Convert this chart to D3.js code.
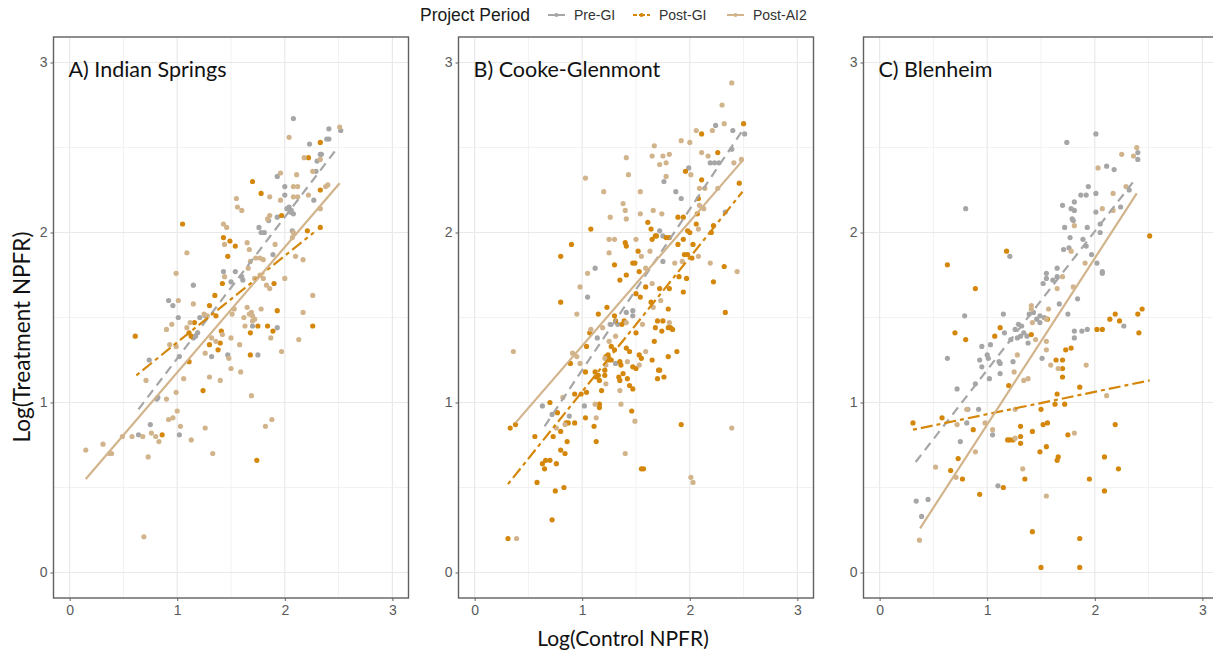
<!DOCTYPE html>
<html>
<head>
<meta charset="utf-8">
<script src="https://cdn.jsdelivr.net/npm/d3@7"></script>
<style>
  body { margin: 0; background: #fff; }
  svg { display: block; }
</style>
</head>
<body>
<svg id="chart" width="1213" height="652"></svg>
<script>
// categories
const sites = ['A) Indian Springs', 'B) Cooke-Glenmont', 'C) Blenheim'];
const periods = ['Pre-GI', 'Post-GI', 'Post-AI2'];
const periodColors = ['#a6a6a6', '#d4870b', '#d2b48c'];
const periodDash = ['9,6', '4,4,12,4', null];
const ticks = [0, 1, 2, 3];

// Indian Springs points [log control, log treatment]
const indianPre = [[2.23,2.52],[2.39,2.55],[2.30,2.42],[2.33,2.46],[1.93,2.33],[2.0,2.27],[2.29,2.36],[2.0,2.22],[2.27,2.19],[2.04,2.15],[2.06,2.13],[2.05,2.12],[2.08,2.11],[2.02,2.14],[1.93,2.09],[1.85,2.07],[1.76,2.03],[1.78,2.0],[1.81,2.0],[2.07,2.01],[1.89,1.87],[1.43,1.77],[1.54,1.77],[1.50,1.71],[1.60,1.74],[1.61,1.72],[1.15,1.69],[0.92,1.60],[0.96,1.57],[1.70,1.45],[1.93,1.44],[1.01,1.50],[1.17,1.39],[1.19,1.41],[1.15,1.38],[1.21,1.50],[1.26,1.51],[0.74,1.25],[1.02,1.27],[1.47,1.28],[1.75,1.28],[1.32,1.27],[0.82,1.03],[0.75,0.87],[0.64,0.81],[0.81,1.02],[1.02,0.81],[2.52,2.60],[2.41,2.61],[2.41,2.55],[2.08,2.67],[2.34,2.46]];
const indianPostGI = [[2.33,2.53],[2.22,2.44],[1.70,2.30],[2.33,2.25],[1.78,2.23],[1.97,2.10],[1.05,2.05],[1.43,1.97],[1.49,1.95],[1.54,1.92],[2.21,2.01],[2.33,2.03],[1.47,1.86],[1.42,1.70],[1.90,1.70],[1.35,1.63],[1.93,1.54],[1.30,1.57],[1.36,1.51],[1.75,1.45],[1.84,1.45],[1.89,1.42],[1.68,1.41],[1.16,1.47],[1.11,1.41],[1.13,1.39],[0.61,1.39],[1.41,1.42],[1.40,1.35],[1.30,1.34],[1.38,1.31],[2.26,1.45],[1.11,1.24],[1.68,1.28],[1.24,1.07],[0.86,0.81],[1.74,0.66]];
const indianPostAI2 = [[2.04,2.56],[2.18,2.44],[1.96,2.35],[2.11,2.34],[2.08,2.27],[2.12,2.27],[2.26,2.36],[2.38,2.27],[1.86,2.21],[1.96,2.19],[2.08,2.21],[2.12,2.21],[2.22,2.22],[1.55,2.20],[1.56,2.15],[1.60,2.13],[1.86,2.10],[1.84,2.08],[1.43,2.05],[1.46,2.03],[1.44,1.93],[1.65,1.94],[2.08,2.0],[2.07,1.97],[1.09,1.88],[1.67,1.90],[1.73,1.85],[1.77,1.85],[1.80,1.84],[1.68,1.83],[2.10,1.86],[2.17,1.84],[1.91,1.93],[0.99,1.76],[1.44,1.74],[1.66,1.79],[1.72,1.73],[1.77,1.75],[1.80,1.73],[2.0,1.73],[1.83,1.69],[1.86,1.67],[1.01,1.60],[1.15,1.58],[2.26,1.63],[2.17,1.53],[1.25,1.52],[1.28,1.51],[1.53,1.55],[1.51,1.52],[1.65,1.56],[1.69,1.53],[1.67,1.52],[1.70,1.51],[1.72,1.49],[1.70,1.48],[1.78,1.55],[1.87,1.38],[1.12,1.47],[1.09,1.44],[0.95,1.46],[0.90,1.43],[1.42,1.40],[1.32,1.38],[1.36,1.36],[1.50,1.38],[1.63,1.45],[1.62,1.50],[1.26,1.29],[1.58,1.34],[1.97,1.30],[2.13,1.37],[0.93,1.34],[0.99,1.33],[1.48,1.26],[0.71,1.13],[1.06,1.14],[1.30,1.15],[1.40,1.13],[1.50,1.20],[1.59,1.18],[1.69,1.04],[0.90,1.02],[0.99,1.06],[0.15,0.72],[0.31,0.755],[0.37,0.70],[0.39,0.70],[0.49,0.80],[0.58,0.80],[0.68,0.80],[0.76,0.82],[0.80,0.80],[0.83,0.77],[0.73,0.68],[0.69,0.21],[0.92,0.90],[0.96,0.91],[1.0,0.95],[1.03,0.86],[1.13,0.78],[1.26,0.85],[1.33,0.70],[1.82,0.86],[1.88,0.90],[2.51,2.62],[2.33,2.43],[2.40,2.28],[2.33,2.14]];

// Cooke-Glenmont points
const cookePre = [[2.24,2.63],[2.40,2.60],[2.51,2.58],[2.19,2.41],[2.23,2.41],[2.27,2.41],[2.39,2.49],[1.99,2.38],[1.76,2.30],[1.87,2.24],[1.92,2.20],[2.33,2.12],[1.72,2.01],[1.75,1.98],[1.75,1.83],[1.12,1.79],[1.05,1.62],[1.26,1.46],[1.33,1.46],[1.41,1.53],[1.47,1.54],[1.47,1.51],[1.14,1.38],[1.31,1.23],[0.63,0.98],[0.72,0.93],[0.88,0.92],[1.02,0.98]];
const cookePostGI = [[2.50,2.64],[2.11,2.58],[2.26,2.47],[1.96,2.36],[2.11,2.31],[2.08,2.20],[2.46,2.29],[1.89,2.09],[1.94,2.09],[2.07,2.11],[2.06,2.05],[2.22,2.04],[2.20,2.0],[1.98,2.01],[2.0,2.0],[1.61,2.06],[1.64,2.02],[1.68,1.98],[1.69,1.98],[1.78,1.97],[1.81,1.97],[1.65,1.96],[1.89,1.93],[1.94,1.96],[2.03,1.93],[1.98,1.87],[1.95,1.87],[2.02,1.85],[2.32,1.80],[2.22,1.71],[1.08,2.02],[0.90,1.93],[0.80,1.86],[1.40,1.94],[1.41,1.92],[1.52,1.89],[1.30,1.81],[1.47,1.82],[1.49,1.82],[1.53,1.77],[1.41,1.75],[1.35,1.72],[1.59,1.68],[1.72,1.67],[1.81,1.67],[1.90,1.74],[1.97,1.73],[1.94,1.65],[0.80,1.59],[1.15,1.52],[1.23,1.56],[1.30,1.51],[1.31,1.48],[1.37,1.46],[1.39,1.48],[1.50,1.64],[1.54,1.62],[1.64,1.59],[1.80,1.55],[1.70,1.48],[1.75,1.48],[1.68,1.44],[1.74,1.42],[1.80,1.44],[1.82,1.44],[1.84,1.43],[2.33,1.53],[1.07,1.41],[1.50,1.41],[1.27,1.33],[1.30,1.31],[1.41,1.32],[1.44,1.30],[1.67,1.36],[1.53,1.28],[1.55,1.26],[1.65,1.25],[1.80,1.27],[1.88,1.30],[1.04,1.33],[0.89,1.23],[1.22,1.27],[1.24,1.28],[1.27,1.25],[1.24,1.25],[1.35,1.24],[1.36,1.22],[1.47,1.21],[1.50,1.20],[1.71,1.19],[1.72,1.19],[1.03,1.18],[1.12,1.18],[1.15,1.16],[1.13,1.15],[1.16,1.13],[1.21,1.19],[1.21,1.16],[1.34,1.15],[1.35,1.13],[1.38,1.17],[1.42,1.14],[1.44,1.10],[1.47,1.08],[1.70,1.14],[1.76,1.15],[0.99,1.05],[1.04,1.06],[0.93,1.05],[1.18,1.07],[0.70,1.0],[0.77,0.94],[0.85,0.88],[0.87,0.88],[0.93,0.88],[1.16,0.99],[1.16,0.97],[1.03,0.91],[1.11,0.86],[1.46,0.95],[1.92,0.87],[0.33,0.85],[0.38,0.87],[0.56,0.80],[0.73,0.80],[0.80,0.83],[0.86,0.77],[1.13,0.77],[0.80,0.72],[0.84,0.70],[0.63,0.64],[0.66,0.66],[0.70,0.66],[0.65,0.61],[0.76,0.64],[1.55,0.61],[1.57,0.61],[0.58,0.53],[0.83,0.50],[0.31,0.20],[0.72,0.31],[0.75,0.48]];
const cookePostAI2 = [[2.39,2.88],[2.30,2.75],[2.32,2.64],[2.21,2.60],[2.06,2.60],[1.92,2.54],[2.0,2.53],[1.67,2.51],[1.65,2.45],[1.75,2.45],[1.81,2.46],[1.72,2.40],[1.78,2.41],[1.41,2.44],[1.43,2.34],[1.03,2.32],[1.20,2.24],[2.11,2.47],[2.17,2.45],[2.41,2.41],[2.48,2.43],[2.01,2.34],[1.78,2.33],[2.09,2.26],[2.14,2.26],[2.26,2.26],[1.54,2.24],[1.38,2.17],[1.40,2.13],[1.41,2.08],[1.26,2.09],[1.54,2.11],[1.66,2.13],[1.74,2.11],[2.09,2.16],[2.13,2.14],[2.08,2.02],[1.50,1.96],[2.08,1.86],[2.19,1.82],[2.44,1.77],[1.25,1.96],[1.30,1.96],[1.25,1.88],[1.55,1.86],[1.63,1.89],[1.86,1.82],[1.93,1.83],[1.59,1.79],[1.65,1.70],[1.05,1.76],[0.98,1.68],[0.95,1.52],[1.41,1.47],[1.56,1.46],[1.73,1.60],[1.66,1.56],[1.81,1.47],[0.36,1.30],[1.08,1.43],[1.19,1.44],[1.25,1.36],[1.31,1.39],[1.59,1.30],[0.91,1.29],[0.95,1.27],[0.98,1.23],[1.21,1.26],[1.22,1.22],[1.42,1.24],[1.53,1.22],[1.22,1.11],[1.35,1.07],[0.82,1.03],[1.12,0.99],[1.36,0.99],[0.84,0.87],[0.76,0.85],[1.13,0.91],[1.49,0.89],[2.39,0.85],[1.40,0.70],[2.01,0.56],[2.03,0.53],[0.39,0.20]];

// Blenheim points
const blenPre = [[2.01,2.58],[1.74,2.53],[2.40,2.47],[2.40,2.43],[2.11,2.39],[2.18,2.37],[1.94,2.27],[1.87,2.22],[1.92,2.22],[2.01,2.23],[2.32,2.25],[2.24,2.15],[1.81,2.18],[1.70,2.16],[1.78,2.14],[1.81,2.13],[2.01,2.12],[1.79,2.08],[1.80,2.07],[1.72,2.03],[1.93,2.03],[2.05,2.05],[1.77,1.97],[1.76,1.91],[1.71,1.90],[1.89,1.96],[1.92,1.92],[2.05,2.0],[1.97,1.87],[2.02,1.82],[2.07,1.77],[2.07,1.76],[1.65,1.79],[1.65,1.74],[1.55,1.76],[1.55,1.73],[1.52,1.70],[1.61,1.72],[1.84,1.61],[1.67,1.58],[1.75,1.52],[0.80,2.14],[1.21,1.86],[0.79,1.51],[1.15,1.52],[1.39,1.52],[1.43,1.53],[1.46,1.49],[1.49,1.51],[1.53,1.50],[1.49,1.47],[1.29,1.46],[1.32,1.45],[1.26,1.43],[1.34,1.41],[1.37,1.39],[1.31,1.39],[1.38,1.35],[1.22,1.37],[1.28,1.38],[1.16,1.41],[1.51,1.26],[0.95,1.33],[1.03,1.34],[1.00,1.28],[1.01,1.26],[0.93,1.25],[0.95,1.21],[0.63,1.26],[1.11,1.24],[1.12,1.23],[1.24,1.24],[1.12,1.17],[1.02,1.14],[0.89,1.11],[0.72,1.08],[2.27,1.45],[1.88,1.42],[1.81,1.38],[1.81,1.42],[1.93,1.43],[0.82,0.96],[0.92,0.96],[0.81,0.88],[0.75,0.77],[1.05,0.81],[0.34,0.42],[0.45,0.43],[0.39,0.33],[1.10,0.51]];
const blenPostGI = [[1.18,1.89],[0.63,1.81],[0.89,1.67],[1.12,1.44],[1.07,1.39],[1.41,1.40],[1.56,1.49],[1.73,1.31],[1.78,1.32],[1.64,1.25],[1.70,1.25],[1.70,1.20],[1.70,1.15],[0.70,1.41],[0.80,1.37],[1.20,1.10],[1.86,1.09],[1.65,1.05],[1.63,0.99],[1.72,0.99],[1.50,0.96],[2.02,1.43],[2.07,1.43],[2.14,1.49],[2.19,1.52],[2.23,1.48],[2.40,1.52],[2.44,1.55],[2.41,1.41],[2.51,1.98],[0.58,0.91],[0.31,0.88],[0.87,0.84],[1.31,0.86],[1.31,0.80],[1.31,0.76],[1.19,0.78],[1.21,0.78],[1.24,0.78],[1.42,0.83],[1.52,0.87],[1.56,0.88],[1.49,0.71],[1.55,0.74],[1.75,0.81],[2.19,0.87],[1.65,0.66],[1.66,0.68],[2.09,0.68],[0.73,0.67],[0.66,0.60],[0.77,0.55],[0.93,0.46],[1.15,0.50],[1.35,0.55],[1.42,0.24],[1.50,0.03],[1.86,0.20],[1.86,0.03],[1.95,0.55],[2.09,0.48],[2.22,0.61]];
const blenPostAI2 = [[2.39,2.50],[2.25,2.46],[2.36,2.45],[2.03,2.38],[2.17,2.23],[2.29,2.27],[2.07,2.14],[2.17,2.13],[1.81,2.04],[1.78,1.89],[1.91,1.82],[1.80,1.68],[1.70,1.74],[1.65,1.67],[1.41,1.57],[1.41,1.55],[1.42,1.47],[1.57,1.55],[1.55,1.49],[1.45,1.37],[1.55,1.36],[1.55,1.31],[1.59,1.22],[1.66,1.20],[1.92,1.22],[1.25,1.18],[1.34,1.13],[1.38,1.14],[1.28,1.28],[2.11,1.04],[0.72,0.87],[1.05,0.84],[1.26,0.79],[1.81,0.82],[0.89,0.71],[0.52,0.62],[0.71,0.56],[1.33,0.61],[1.55,0.45],[0.37,0.19],[1.26,0.96],[0.98,0.88],[0.81,0.96]];

// fitted trend lines per site: [x0, y0, x1, y1] for Pre-GI, Post-GI, Post-AI2
const indianFits = [[0.64,0.96,2.48,2.49],[0.62,1.16,2.27,2.00],[0.15,0.55,2.51,2.29]];
const cookeFits = [[0.65,0.86,2.50,2.61],[0.31,0.52,2.49,2.24],[0.38,0.88,2.50,2.43]];
const blenFits = [[0.335,0.65,2.36,2.30],[0.31,0.84,2.51,1.13],[0.376,0.26,2.39,2.23]];

const siteData = [
  { title: sites[0], pts: [indianPre, indianPostGI, indianPostAI2], fits: indianFits },
  { title: sites[1], pts: [cookePre, cookePostGI, cookePostAI2], fits: cookeFits },
  { title: sites[2], pts: [blenPre, blenPostGI, blenPostAI2], fits: blenFits },
];

const svg = d3.select('#chart');
const panelW = 355;
const panelTop = 37;
const panelBottom = 598;
const panelLefts = [53.5, 458.5, 863.5];
const axisFont = "'Liberation Sans', Arial, sans-serif";
const titleFont = "Lato, 'Open Sans', sans-serif";

const y = d3.scaleLinear().domain([-0.15, 3.15]).range([panelBottom, panelTop]);

siteData.forEach((site, i) => {
  const left = panelLefts[i];
  const x = d3.scaleLinear().domain([-0.15, 3.15]).range([left, left + panelW]);
  const g = svg.append('g');

  // minor + major grid
  const minor = [0.5, 1.5, 2.5];
  g.selectAll('.vminor').data(minor).enter().append('line')
    .attr('x1', d => x(d)).attr('x2', d => x(d))
    .attr('y1', panelTop).attr('y2', panelBottom)
    .attr('stroke', '#f2f2f2').attr('stroke-width', 1);
  g.selectAll('.hminor').data(minor).enter().append('line')
    .attr('y1', d => y(d)).attr('y2', d => y(d))
    .attr('x1', left).attr('x2', left + panelW)
    .attr('stroke', '#f2f2f2').attr('stroke-width', 1);
  g.selectAll('.vmajor').data(ticks).enter().append('line')
    .attr('x1', d => x(d)).attr('x2', d => x(d))
    .attr('y1', panelTop).attr('y2', panelBottom)
    .attr('stroke', '#e9e9e9').attr('stroke-width', 1.2);
  g.selectAll('.hmajor').data(ticks).enter().append('line')
    .attr('y1', d => y(d)).attr('y2', d => y(d))
    .attr('x1', left).attr('x2', left + panelW)
    .attr('stroke', '#e9e9e9').attr('stroke-width', 1.2);

  // points
  site.pts.forEach((pts, k) => {
    g.append('g').selectAll('circle')
      .data(pts)
      .enter()
      .append('circle')
      .attr('cx', d => x(d[0]))
      .attr('cy', d => y(d[1]))
      .attr('r', 2.6)
      .style('fill', periodColors[k]);
  });

  // trend lines
  site.fits.forEach((f, k) => {
    g.append('line')
      .attr('x1', x(f[0])).attr('y1', y(f[1]))
      .attr('x2', x(f[2])).attr('y2', y(f[3]))
      .attr('stroke', periodColors[k])
      .attr('stroke-width', 2.2)
      .attr('stroke-dasharray', periodDash[k]);
  });

  // panel border
  g.append('rect')
    .attr('x', left).attr('y', panelTop)
    .attr('width', panelW).attr('height', panelBottom - panelTop)
    .attr('fill', 'none').attr('stroke', '#606060').attr('stroke-width', 1.4);

  // axes
  const xAxis = d3.axisBottom(x).tickValues(ticks).tickSize(3).tickPadding(4).tickFormat(d3.format('d'));
  const yAxis = d3.axisLeft(y).tickValues(ticks).tickSize(3).tickPadding(3).tickFormat(d3.format('d'));
  [g.append('g').attr('transform', `translate(0,${panelBottom})`).call(xAxis),
   g.append('g').attr('transform', `translate(${left},0)`).call(yAxis)].forEach(ax => {
    ax.select('.domain').remove();
    ax.selectAll('.tick line').attr('stroke', '#606060');
    ax.selectAll('.tick text')
      .attr('fill', '#5a5a5a')
      .style('font-family', axisFont)
      .style('font-size', '14px');
  });

  g.append('text')
    .attr('x', left + 15).attr('y', 77)
    .style('font-family', titleFont)
    .style('font-size', '21.5px')
    .attr('fill', '#111')
    .text(site.title);
});

// axis titles
svg.append('text')
  .attr('transform', 'translate(30,337) rotate(-90)')
  .attr('text-anchor', 'middle')
  .style('font-family', titleFont).style('font-size', '22.5px').attr('fill', '#111')
  .text('Log(Treatment NPFR)');
svg.append('text')
  .attr('x', 623).attr('y', 646)
  .attr('text-anchor', 'middle')
  .style('font-family', titleFont).style('font-size', '21px').attr('fill', '#111')
  .text('Log(Control NPFR)');

// legend
const legend = svg.append('g');
legend.append('text')
  .attr('x', 420).attr('y', 21)
  .style('font-family', axisFont).style('font-size', '17.5px').attr('fill', '#1a1a1a')
  .text('Project Period');
const keyX = [548, 633, 727];
periods.forEach((p, k) => {
  const kg = legend.append('g').attr('transform', `translate(${keyX[k]},15)`);
  kg.append('line')
    .attr('x1', 0).attr('x2', 17).attr('y1', 0).attr('y2', 0)
    .attr('stroke', periodColors[k]).attr('stroke-width', 2)
    .attr('stroke-dasharray', k === 1 ? '4,2,6,2' : null);
  kg.append('circle').attr('cx', 8.5).attr('cy', 0).attr('r', 2).style('fill', periodColors[k]);
  kg.append('text')
    .attr('x', 26).attr('y', 5)
    .style('font-family', axisFont).style('font-size', '14px').attr('fill', '#333')
    .text(p);
});
</script>
</body>
</html>
